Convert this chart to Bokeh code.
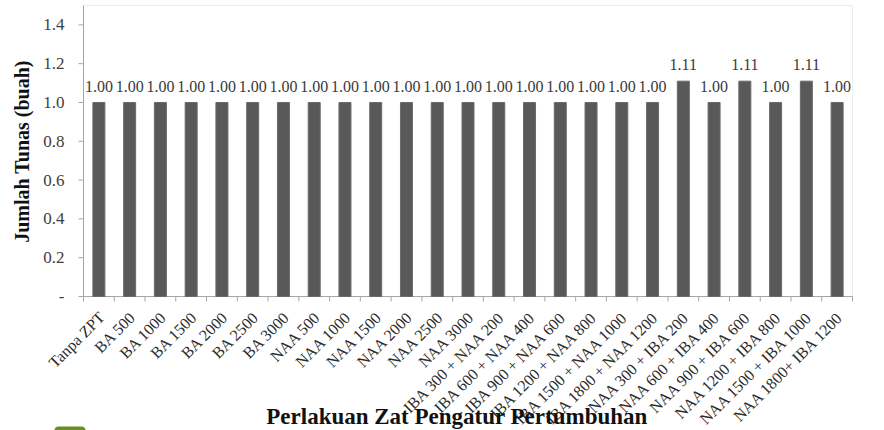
import math
from bokeh.plotting import figure
from bokeh.models import ColumnDataSource, Range1d, BoxAnnotation, Label
from bokeh.core.properties import value
from bokeh.embed import file_html
from bokeh.resources import INLINE

categories = [
    "Tanpa ZPT", "BA 500", "BA 1000", "BA 1500", "BA 2000", "BA 2500", "BA 3000",
    "NAA 500", "NAA 1000", "NAA 1500", "NAA 2000", "NAA 2500", "NAA 3000",
    "IBA 300 + NAA 200", "IBA 600 + NAA 400", "IBA 900 + NAA 600",
    "IBA 1200 + NAA 800", "IBA 1500 + NAA 1000", "IBA 1800 + NAA 1200",
    "NAA 300 + IBA 200", "NAA 600 + IBA 400", "NAA 900 + IBA 600",
    "NAA 1200 + IBA 800", "NAA 1500 + IBA 1000", "NAA 1800+ IBA 1200",
]
values = [1.00, 1.00, 1.00, 1.00, 1.00, 1.00, 1.00,
          1.00, 1.00, 1.00, 1.00, 1.00, 1.00,
          1.00, 1.00, 1.00, 1.00, 1.00, 1.00,
          1.11, 1.00, 1.11, 1.00, 1.11, 1.00]
y_ticks = [0.0, 0.2, 0.4, 0.6, 0.8, 1.0, 1.2, 1.4]
y_tick_labels = ["-", "0.2", "0.4", "0.6", "0.8", "1.0", "1.2", "1.4"]
x_title = "Perlakuan Zat Pengatur Pertumbuhan"
y_title = "Jumlah Tunas (buah)"

FONT = "Liberation Serif"
GRAY = "#a6a6a6"

n = len(categories)
xs = list(range(n))
src = ColumnDataSource(dict(x=xs, top=values, label=[f"{v:.2f}" for v in values],
                            cat=categories))
ysrc = ColumnDataSource(dict(y=y_ticks, label=y_tick_labels))

# Layout in canvas pixels (the frame fills the whole canvas)
W, H = 884, 430
BOX_L, BOX_R = 83, 852        # plotting box left/right
BOX_T, BOX_B = 5, 296         # plotting box top / zero line
PX_X = (BOX_R - BOX_L) / n    # px per category
PX_Y = (BOX_B - BOX_T) / 1.5  # px per 1.0 value
TITLE_Y = 416                 # x title centre

x_start = -0.5 - BOX_L / PX_X
x_end = -0.5 + (W - BOX_L) / PX_X
y_end = BOX_B / PX_Y
y_start = -(H - BOX_B) / PX_Y
y_box_top = (BOX_B - BOX_T) / PX_Y

def px_to_x(px):
    return -0.5 + (px - BOX_L) / PX_X

def px_to_y(py):
    return (BOX_B - py) / PX_Y

p = figure(width=W, height=H, output_backend="svg", toolbar_location=None,
           x_range=Range1d(x_start, x_end), y_range=Range1d(y_start, y_end),
           x_axis_location=None, y_axis_location=None,
           min_border_left=0, min_border_right=0, min_border_top=0, min_border_bottom=0)
p.outline_line_color = None
p.xgrid.visible = False
p.ygrid.visible = False
p.background_fill_color = "white"
p.border_fill_color = "white"

# plotting box
p.add_layout(BoxAnnotation(left=-0.5, right=n - 0.5, bottom=0, top=y_box_top,
                           fill_color=None, line_color="#bfbfbf", line_width=1, level="underlay"))
p.segment(x0=[-0.5], y0=[0], x1=[n - 0.5], y1=[0], line_color=GRAY, line_width=1)
p.segment(x0=[-0.5], y0=[0], x1=[-0.5], y1=[y_box_top], line_color=GRAY, line_width=1)

# category boundary ticks
boundaries = [i - 0.5 for i in range(n + 1)]
p.segment(x0=boundaries, y0=0, x1=boundaries, y1=-5 / PX_Y, line_color=GRAY, line_width=1)

# value ticks and labels
p.segment(x0=-0.5, y0="y", x1=-0.5 - 5 / PX_X, y1="y", source=ysrc, line_color=GRAY, line_width=1)
p.text(x=-0.5, y="y", text="label", source=ysrc, text_align="right", text_baseline="middle",
       x_offset=-19, text_font=value(FONT), text_font_size="17px", text_color="#404040")

# y title
p.text(x=[-0.5], y=[px_to_y(151)], text=[y_title], angle=math.pi / 2, text_align="center",
       text_baseline="middle", x_offset=-(BOX_L - 21), text_font=value(FONT), text_font_style="bold",
       text_font_size="20px", text_color="#111111")

# bars and value labels
p.vbar(x="x", top="top", width=0.39, source=src, fill_color="#595959", line_color="#6a6a6a", line_width=1)
p.text(x="x", y="top", text="label", source=src, text_align="center", text_baseline="bottom",
       y_offset=-11, text_font=value(FONT), text_font_size="16px", text_color="#3a3a3a")

# category labels
p.text(x="x", y=0, text="cat", source=src, angle=math.pi / 4, text_align="right",
       text_baseline="top", x_offset=-3, y_offset=12, text_font=value(FONT),
       text_font_size="16px", text_color="#2a2a2a")

# x title
p.add_layout(Label(x=(n - 1) / 2, y=px_to_y(TITLE_Y), x_offset=-11, text=x_title,
                   text_align="center", text_baseline="middle", text_font=FONT,
                   text_font_style="bold", text_font_size="23px", text_color="#111111"))

# small green tab at the lower-left edge of the picture
p.add_layout(BoxAnnotation(left=px_to_x(54), right=px_to_x(85), bottom=px_to_y(434), top=px_to_y(426),
                           fill_color="#6b8e23", fill_alpha=1, line_color=None, border_radius=4))

open("out.html", "w").write(file_html(p, INLINE))
